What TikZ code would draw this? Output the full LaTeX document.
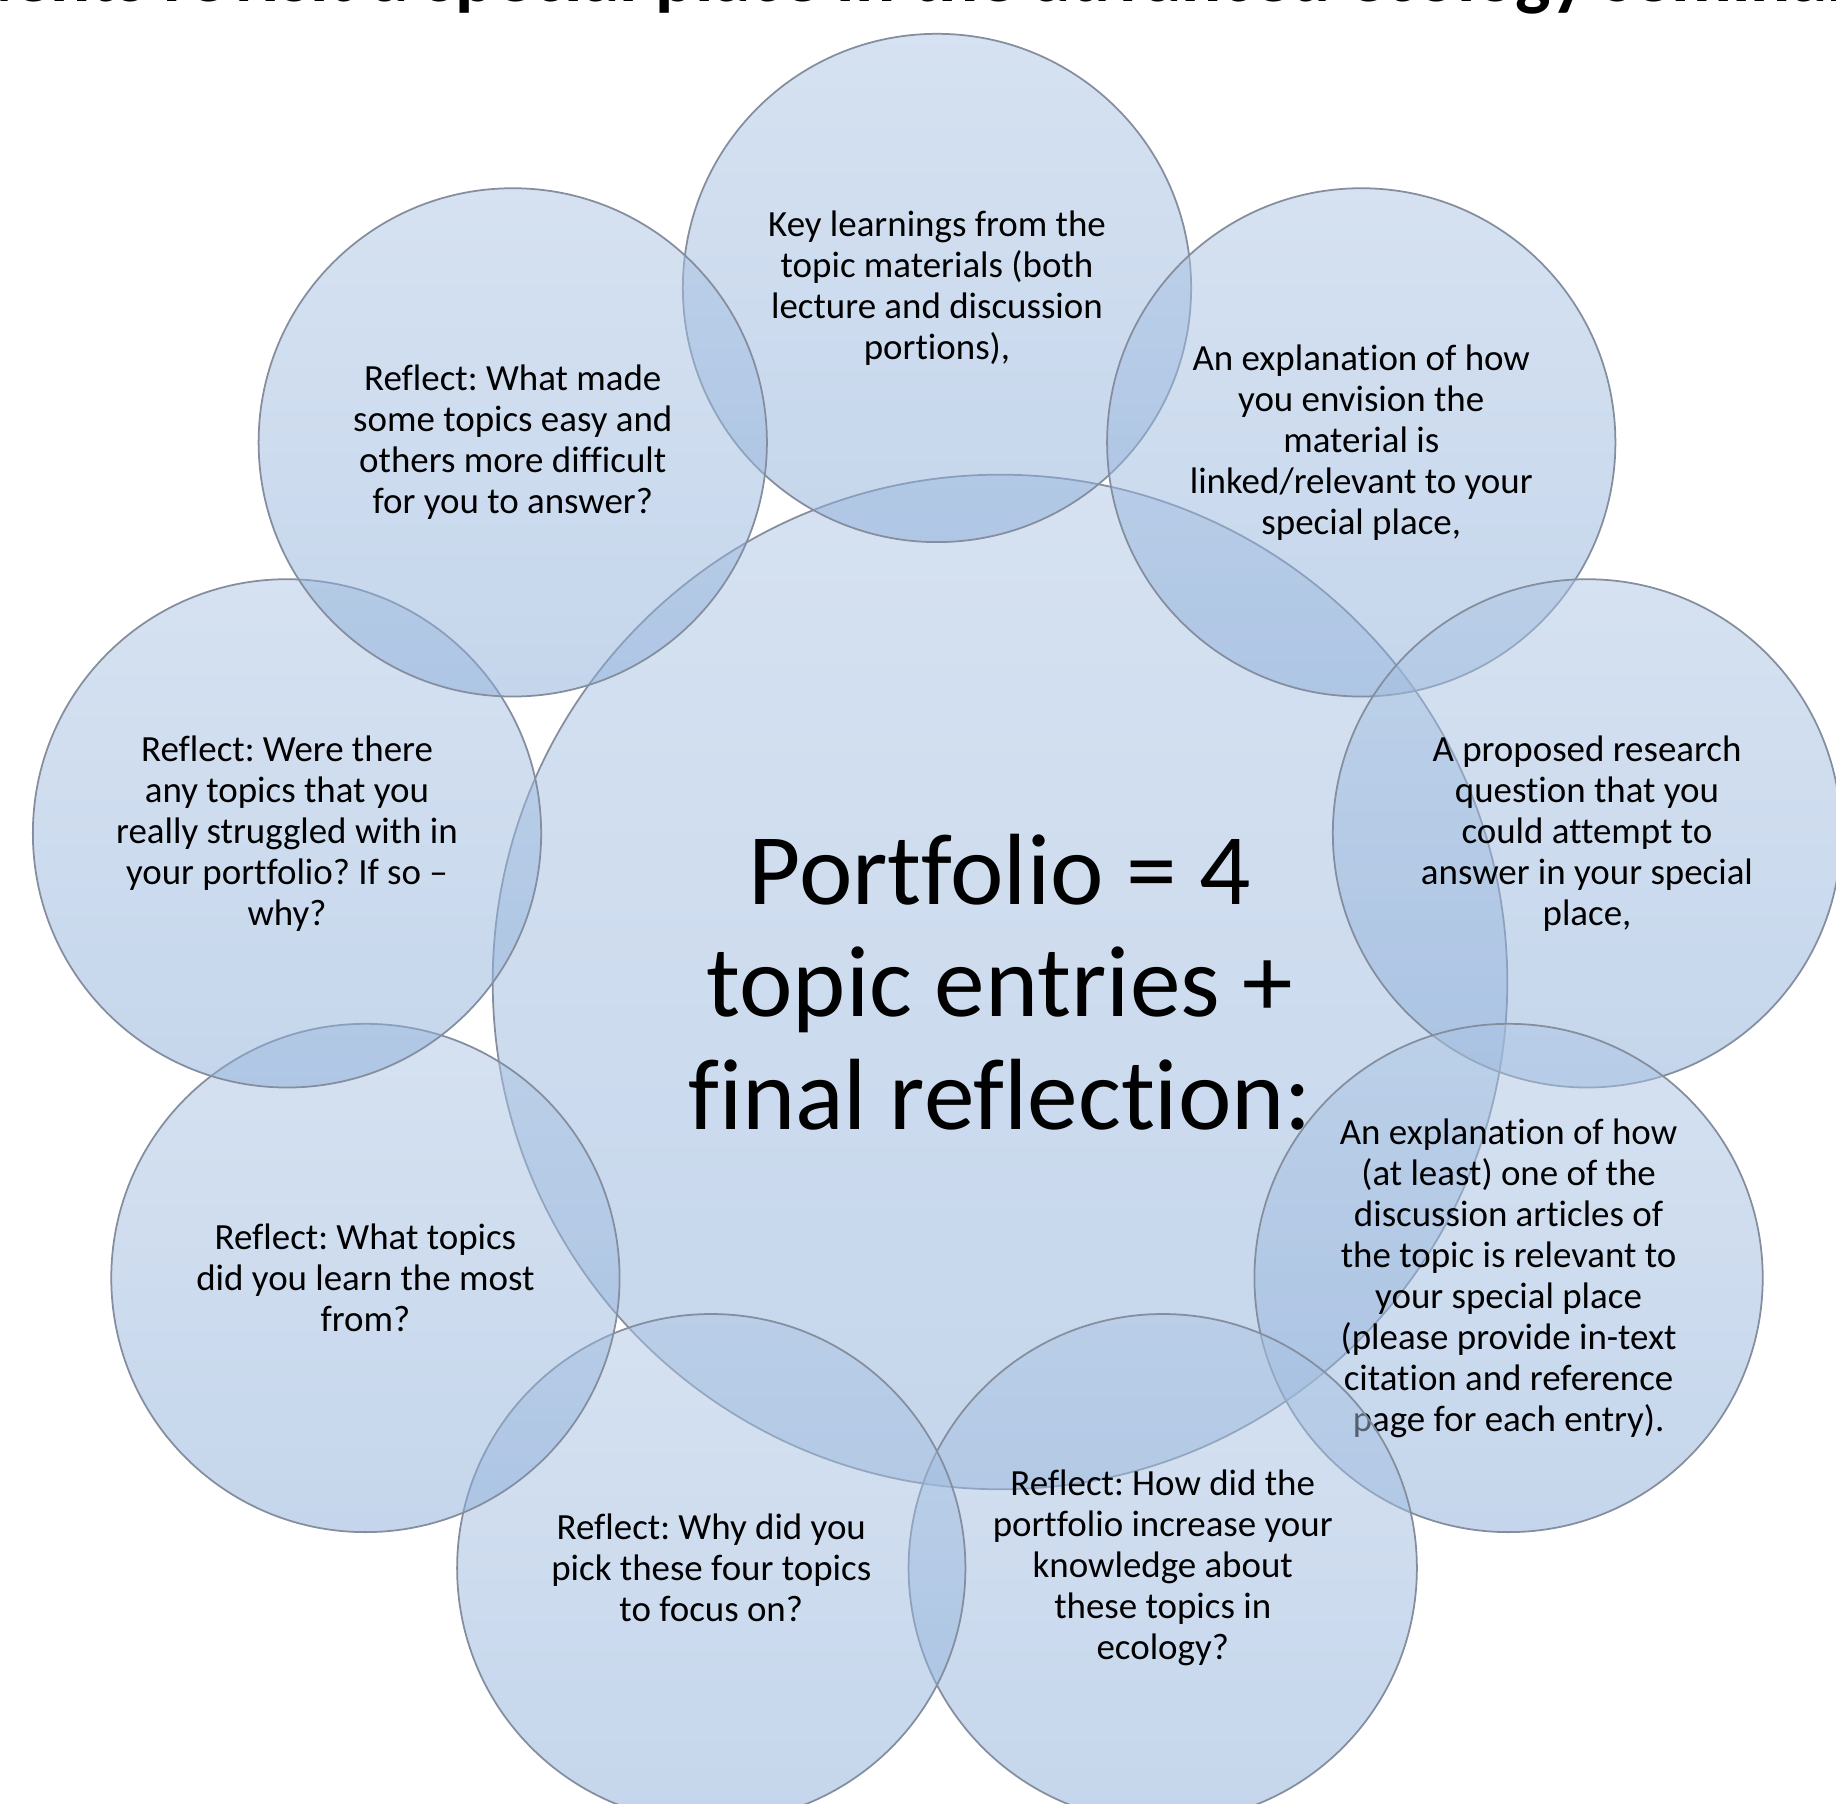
\documentclass[tikz,border=0pt]{standalone}
\usepackage{fontspec}
\setmainfont{Carlito}[Ligatures=NoCommon]
\usetikzlibrary{positioning,calc}

\definecolor{bubbletop}{RGB}{173,197,227}
\definecolor{bubblebot}{RGB}{139,173,217}
\definecolor{bubbleline}{RGB}{132,142,158}

\begin{document}
\frenchspacing
\begin{tikzpicture}[x=0.01cm, y=0.01cm]
    \tikzstyle{bubble}=[circle, draw=bubbleline, line width=0.5pt, top color=bubbletop, bottom color=bubblebot, fill opacity=0.5, text opacity=1, text=black, inner sep=0pt, minimum size=5.08cm, align=center, font=\fontsize{10.5}{11.66}\selectfont]
    \tikzstyle{hub}=[bubble, minimum size=10.14cm, font=\fontsize{28.8}{32}\selectfont]
    \useasboundingbox (0,0) rectangle (1836,1804);
    \clip (0,0) rectangle (1836,1804);
    \coordinate (ring) at (937,856);

    % title, cut off at the top edge
    \node[anchor=base, inner sep=0pt, font=\fontsize{21.3}{25}\selectfont\bfseries] (title) at (455,1802) {\llap{Students revisit a s}\rlap{pecial place in the advanced ecology seminar}};

    % middle (drawn first, the ring lies over it)
    \node[hub] (portfolio) at (1000,822) {Portfolio = 4\\topic entries +\\final reflection:};

    % ring of nine, clockwise from the top
    \node[bubble] (learn)    at ($(ring)+(90:660)$)  {Key learnings from the\\topic materials (both\\lecture and discussion\\portions),};
    \node[bubble] (link)     at ($(ring)+(50:660)$)  {An explanation of how\\you envision the\\material is\\linked/relevant to your\\special place,};
    \node[bubble] (question) at ($(ring)+(10:660)$)  {A proposed research\\question that you\\could attempt to\\answer in your special\\place,};
    \node[bubble] (article)  at ($(ring)+(-30:660)$) {An explanation of how\\(at least) one of the\\discussion articles of\\the topic is relevant to\\your special place\\(please provide in-text\\citation and reference\\page for each entry).};
    \node[bubble] (increase) at ($(ring)+(-70:660)$) {Reflect: How did the\\portfolio increase your\\knowledge about\\these topics in\\ecology?};
    \node[bubble] (pick)     at ($(ring)+(-110:660)$) {Reflect: Why did you\\pick these four topics\\to focus on?};
    \node[bubble] (most)     at ($(ring)+(-150:660)$) {Reflect: What topics\\did you learn the most\\from?};
    \node[bubble] (struggle) at ($(ring)+(170:660)$) {Reflect: Were there\\any topics that you\\really struggled with in\\your portfolio? If so --\\why?};
    \node[bubble] (easy)     at ($(ring)+(130:660)$) {Reflect: What made\\some topics easy and\\others more difficult\\for you to answer?};
\end{tikzpicture}
\end{document}
